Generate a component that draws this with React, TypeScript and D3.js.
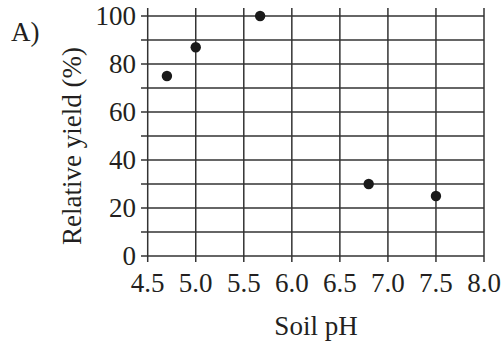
import React from "react";
import * as d3 from "d3";

const soilPH = [4.7, 5.0, 5.67, 6.8, 7.5];
const relativeYield = [75, 87, 100, 30, 25];
const xTicks = [4.5, 5.0, 5.5, 6.0, 6.5, 7.0, 7.5, 8.0];
const yTicks = [0, 20, 40, 60, 80, 100];
const yGrid = [0, 10, 20, 30, 40, 50, 60, 70, 80, 90, 100];

const W = 502;
const H = 341;
const FONT = "'Liberation Serif', 'Times New Roman', serif";
const FS = 27;

export default function App() {
  const x = d3.scaleLinear().domain([4.5, 8.0]).range([147.7, 484]);
  const y = d3.scaleLinear().domain([0, 100]).range([256, 16]);
  const stroke = "#333";
  return (
    <svg width={W} height={H} style={{ position: "absolute", left: 0, top: 0, background: "#fff" }}>
      <rect width={W} height={H} fill="#fff" />
      {yGrid.map((v) => (
        <line key={"h" + v} x1={141} x2={x(8.0)} y1={y(v)} y2={y(v)} stroke={stroke} strokeWidth={1.5} />
      ))}
      {xTicks.map((v) => (
        <line key={"v" + v} x1={x(v)} x2={x(v)} y1={8} y2={262} stroke={stroke} strokeWidth={1.5} />
      ))}
      {yTicks.map((v) => (
        <text key={"yt" + v} x={136} y={y(v)} dy="0.35em" textAnchor="end" fontFamily={FONT} fontSize={FS} fill="#231f20">
          {v}
        </text>
      ))}
      {xTicks.map((v) => (
        <text key={"xt" + v} x={x(v)} y={292} textAnchor="middle" fontFamily={FONT} fontSize={FS} fill="#231f20">
          {v.toFixed(1)}
        </text>
      ))}
      {soilPH.map((p, i) => (
        <circle key={"pt" + i} cx={x(p)} cy={y(relativeYield[i])} r={5.2} fill="#1a1a1a" />
      ))}
      <text x={316} y={335} textAnchor="middle" fontFamily={FONT} fontSize={FS} fill="#231f20">
        Soil pH
      </text>
      <text
        transform={`translate(81, ${146}) rotate(-90)`}
        textAnchor="middle"
        fontFamily={FONT}
        fontSize={FS}
        fill="#231f20"
      >
        Relative yield (%)
      </text>
      <text x={11} y={41} fontFamily={FONT} fontSize={FS} fill="#231f20">
        A)
      </text>
    </svg>
  );
}
